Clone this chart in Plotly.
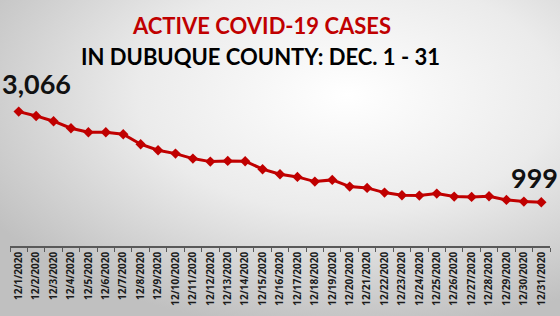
import plotly.graph_objects as go
import urllib.parse

dates = [f"12/{d}/2020" for d in range(1, 32)]
active_cases = [3066, 2967, 2847, 2687, 2596, 2596, 2550, 2322, 2185, 2108,
                1994, 1925, 1941, 1934, 1752, 1638, 1576, 1469, 1508, 1355,
                1325, 1218, 1159, 1150, 1195, 1127, 1120, 1136, 1051, 1013, 999]
title_line1 = "ACTIVE COVID-19 CASES"
title_line2 = "IN DUBUQUE COUNTY: DEC. 1 - 31"

W, H = 560, 316
ML, MR, MT, MB = 10, 10, 93, 70
PW, PH = W - ML - MR, H - MT - MB

svg = (f'<svg xmlns="http://www.w3.org/2000/svg" width="{W}" height="{H}">'
       '<defs><radialGradient id="g" cx="0.62" cy="0.3" r="0.75" gradientUnits="objectBoundingBox">'
       '<stop offset="0" stop-color="#ffffff"/><stop offset="0.5" stop-color="#ebebeb"/>'
       '<stop offset="1" stop-color="#c0c0c0"/></radialGradient></defs>'
       f'<rect width="{W}" height="{H}" fill="url(#g)"/></svg>')
src = "data:image/svg+xml;charset=utf-8," + urllib.parse.quote(svg)

fig = go.Figure()
fig.add_trace(go.Scatter(
    x=dates, y=active_cases, mode="lines+markers",
    line=dict(color="#c00000", width=3),
    marker=dict(symbol="diamond", size=8, color="#c00000"),
    hoverinfo="x+y",
))

fig.add_annotation(x=dates[0], y=active_cases[0], text=f"<b>{active_cases[0]:,}</b>",
                   showarrow=False, xshift=18, yshift=28,
                   font=dict(family="Lato", size=27, color="#111111"))
fig.add_annotation(x=dates[-1], y=active_cases[-1], text=f"<b>{active_cases[-1]:,}</b>",
                   showarrow=False, xshift=-7, yshift=25,
                   font=dict(family="Lato", size=27, color="#111111"))

fig.add_annotation(xref="paper", yref="paper", x=(261 - ML) / PW, y=(MT + PH - 25) / PH,
                   text=f"<b>{title_line1}</b>", showarrow=False,
                   xanchor="center", yanchor="middle",
                   font=dict(family="Lato", size=22, color="#c00000"))
fig.add_annotation(xref="paper", yref="paper", x=(260 - ML) / PW, y=(MT + PH - 57) / PH,
                   text=f"<b>{title_line2}</b>", showarrow=False,
                   xanchor="center", yanchor="middle",
                   font=dict(family="Lato", size=22, color="#000000"))

fig.add_layout_image(dict(source=src, xref="paper", yref="paper",
                          x=-ML / PW, y=(PH + MT) / PH, sizex=W / PW, sizey=H / PH,
                          xanchor="left", yanchor="top", sizing="stretch", layer="below"))

fig.update_layout(
    width=W, height=H,
    margin=dict(l=ML, r=MR, t=MT, b=MB),
    paper_bgcolor="#d8d8d8", plot_bgcolor="rgba(0,0,0,0)",
    showlegend=False,
    xaxis=dict(type="category", range=[-0.5, 30.5], showline=True, linecolor="#595959",
               linewidth=1.5, ticks="outside", tickson="boundaries", ticklen=4,
               tickcolor="#595959", tickangle=-90, showgrid=False, zeroline=False,
               automargin=False,
               tickfont=dict(family="Open Sans", size=10, color="#1a1a1a", weight="bold")),
    yaxis=dict(range=[0, 3490], visible=False, showgrid=False, zeroline=False),
)

fig.write_html("out.html")
